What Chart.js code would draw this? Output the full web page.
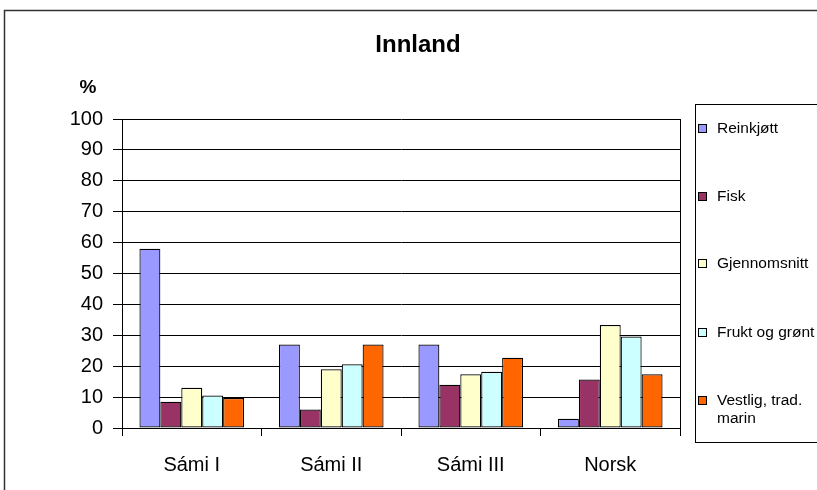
<!DOCTYPE html>
<html>
<head>
<meta charset="utf-8">
<script src="https://cdn.jsdelivr.net/npm/chart.js@4"></script>
<style>
  body { margin: 0; background: #fff; }
  #wrap { width: 817px; height: 490px; position: relative; }
</style>
</head>
<body>
<div id="wrap"><canvas id="dietChart"></canvas></div>
<script>
const categories = ['Sámi I', 'Sámi II', 'Sámi III', 'Norsk'];
const reinkjott = [58, 27, 27, 3];
const fisk = [8.5, 6, 14, 15.7];
const gjennomsnitt = [13, 19, 17.4, 33.3];
const fruktOgGront = [10.5, 20.6, 18.2, 29.6];
const vestligTradMarin = [9.7, 27, 22.7, 17.4];
const yTicks = [0, 10, 20, 30, 40, 50, 60, 70, 80, 90, 100];

const FONT = '"Liberation Sans", Arial, sans-serif';

function makeSet(label, data, color) {
  return {
    label: label,
    data: data,
    backgroundColor: color,
    borderColor: '#000',
    borderWidth: 1.2,
    borderSkipped: false,
    categoryPercentage: 0.75,
    barPercentage: 1.0,
  };
}

// title, % label, outer frame, plot right edge and the boxed legend
const decor = {
  id: 'decor',
  afterDraw(chart) {
    const c = chart.ctx;
    const area = chart.chartArea;
    c.save();
    c.strokeStyle = '#333';
    c.lineWidth = 1.5;
    c.strokeRect(4.5, 10.5, 830, 500);

    c.strokeStyle = '#000';
    c.lineWidth = 1;
    c.beginPath();
    c.moveTo(Math.round(area.right) + 0.5, area.top);
    c.lineTo(Math.round(area.right) + 0.5, area.bottom);
    c.stroke();

    c.fillStyle = '#000';
    c.textAlign = 'center';
    c.textBaseline = 'middle';
    c.font = 'bold 24px ' + FONT;
    c.fillText('Innland', 418, 45);
    c.font = 'bold 19px ' + FONT;
    c.fillText('%', 88, 88);

    // legend
    c.strokeStyle = '#000';
    c.strokeRect(695.5, 104.5, 140, 338);
    c.font = '15.5px ' + FONT;
    c.textAlign = 'left';
    const rows = [129, 197, 264, 333, 401];
    chart.data.datasets.forEach((ds, i) => {
      const y = rows[i];
      c.fillStyle = ds.backgroundColor;
      c.fillRect(698.5, y - 4.5, 8, 8);
      c.strokeRect(698.5, y - 4.5, 8, 8);
      c.fillStyle = '#000';
      const words = ds.label.split(' ');
      let line = '';
      let ly = y;
      words.forEach(w => {
        const test = line ? line + ' ' + w : w;
        if (c.measureText(test).width > 104 && line) {
          c.fillText(line, 717, ly);
          line = w;
          ly += 18;
        } else {
          line = test;
        }
      });
      c.fillText(line, 717, ly);
    });
    c.restore();
  }
};

new Chart(document.getElementById('dietChart'), {
  type: 'bar',
  data: {
    labels: categories,
    datasets: [
      makeSet('Reinkjøtt', reinkjott, '#9999FF'),
      makeSet('Fisk', fisk, '#993366'),
      makeSet('Gjennomsnitt', gjennomsnitt, '#FFFFCC'),
      makeSet('Frukt og grønt', fruktOgGront, '#CCFFFF'),
      makeSet('Vestlig, trad. marin', vestligTradMarin, '#FF6600'),
    ]
  },
  options: {
    responsive: true,
    maintainAspectRatio: false,
    animation: false,
    layout: { padding: { top: 119, right: 137, bottom: 0, left: 0 } },
    plugins: {
      legend: { display: false },
      tooltip: { enabled: false },
    },
    scales: {
      x: {
        afterFit(scale) { scale.height = 62; },
        grid: { display: true, drawOnChartArea: false, offset: true, tickLength: 8, color: '#000' },
        border: { color: '#000', width: 1 },
        ticks: { color: '#000', font: { family: FONT, size: 20 }, padding: 17 },
      },
      y: {
        min: 0,
        max: 100,
        afterFit(scale) { scale.width = 122; },
        afterBuildTicks(scale) { scale.ticks = yTicks.map(v => ({ value: v })); },
        grid: { color: '#000', tickLength: 9 },
        border: { color: '#000', width: 1 },
        ticks: { color: '#000', font: { family: FONT, size: 20 }, padding: 10 },
      }
    }
  },
  plugins: [decor]
});
</script>
</body>
</html>
